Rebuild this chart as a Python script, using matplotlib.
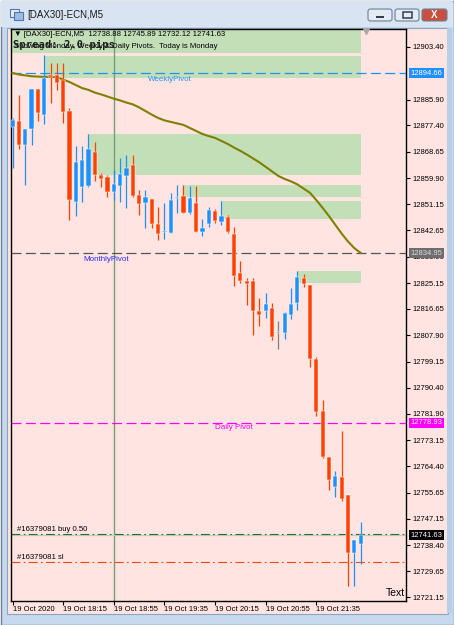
import matplotlib
matplotlib.use("Agg")
import matplotlib.pyplot as plt
from matplotlib.patches import Rectangle, FancyBboxPatch
from matplotlib.transforms import blended_transform_factory
import numpy as np

plt.rcParams['font.family'] = ['Liberation Sans', 'DejaVu Sans']

# --- data (M5 bars) ---
opens = [12876.8, 12878.8, 12870.9, 12876.1, 12889.4, 12880.8, 12894.0, 12894.0,
         12892.4, 12882.1, 12852.0, 12856.9, 12857.3, 12868.5, 12860.9, 12860.3,
         12855.3, 12857.3, 12860.6, 12864.2, 12854.3, 12851.6, 12853.0, 12844.7,
         12841.9, 12841.7, 12853.3, 12854.0, 12848.3, 12851.6, 12842.0, 12844.7,
         12849.0, 12845.4, 12847.0, 12841.4, 12828.5, 12825.8, 12825.8, 12815.9,
         12815.9, 12816.9, 12808.6, 12808.6, 12814.6, 12818.5, 12826.8, 12824.5,
         12800.0, 12782.8, 12767.5, 12757.6, 12760.9, 12755.0, 12735.8, 12738.88]
highs = [12879.8, 12887.4, 12876.1, 12889.4, 12889.4, 12900.6, 12898.0, 12898.0,
         12898.0, 12883.1, 12870.5, 12870.5, 12874.5, 12871.8, 12861.6, 12860.9,
         12862.6, 12866.5, 12867.5, 12867.5, 12856.0, 12856.0, 12853.0, 12850.3,
         12851.6, 12855.0, 12857.6, 12857.6, 12857.3, 12857.3, 12846.3, 12850.3,
         12849.7, 12852.3, 12847.7, 12843.7, 12832.4, 12826.8, 12826.8, 12820.2,
         12821.8, 12818.5, 12812.6, 12815.5, 12823.5, 12829.1, 12828.1, 12824.5,
         12800.6, 12786.4, 12767.5, 12762.9, 12776.1, 12755.0, 12740.0, 12745.89]
lows = [12863.2, 12869.5, 12857.6, 12870.9, 12878.8, 12877.8, 12884.8, 12889.1,
        12878.1, 12846.0, 12847.3, 12852.0, 12856.9, 12858.9, 12856.9, 12853.6,
        12852.6, 12852.0, 12850.0, 12853.6, 12847.7, 12843.4, 12843.4, 12839.4,
        12839.7, 12841.7, 12848.3, 12848.3, 12848.0, 12842.0, 12840.7, 12843.7,
        12845.0, 12844.4, 12841.7, 12824.2, 12825.2, 12817.9, 12807.9, 12810.9,
        12813.6, 12806.3, 12803.3, 12806.6, 12813.2, 12816.2, 12823.8, 12797.3,
        12781.1, 12767.2, 12756.6, 12754.3, 12753.0, 12724.8, 12724.8, 12732.12]
closes = [12879.1, 12870.9, 12876.1, 12889.4, 12881.4, 12893.0, 12893.4, 12891.4,
          12881.8, 12852.6, 12865.2, 12865.9, 12869.5, 12860.9, 12859.6, 12855.3,
          12857.9, 12861.2, 12863.2, 12854.0, 12851.3, 12853.6, 12844.7, 12841.4,
          12842.1, 12852.6, 12853.6, 12848.3, 12853.3, 12842.0, 12843.4, 12849.3,
          12845.7, 12847.3, 12842.0, 12827.5, 12825.8, 12824.8, 12815.9, 12814.6,
          12818.2, 12807.3, 12808.6, 12815.2, 12818.2, 12827.1, 12824.8, 12800.0,
          12782.4, 12767.5, 12759.9, 12761.2, 12753.6, 12735.8, 12740.0, 12741.63]
ma = [12894.7, 12894.2, 12893.9, 12893.6, 12893.5, 12893.4, 12893.4, 12893.3,
      12892.5, 12891.7, 12890.7, 12889.7, 12889.1, 12888.2, 12887.6, 12886.9,
      12886.2, 12885.6, 12884.9, 12884.3, 12883.3, 12882.1, 12880.9, 12879.8,
      12879.0, 12878.5, 12878.0, 12877.5, 12876.5, 12875.5, 12874.5, 12873.8,
      12873.2, 12872.2, 12871.2, 12870.0, 12868.9, 12867.7, 12866.4, 12865.1,
      12863.6, 12862.1, 12860.6, 12859.6, 12858.8, 12857.8, 12856.4, 12855.0,
      12852.6, 12850.0, 12847.3, 12844.4, 12841.5, 12838.9, 12836.7, 12835.1]

zone_lo = [12901.3, 12893.2, 12860.9, 12853.6, 12846.2, 12825.1]
zone_hi = [12912.0, 12900.3, 12874.5, 12857.6, 12852.3, 12829.1]
zone_start = [-0.3, 5, 12, 27, 33, 45]
zone_end = 55

weekly_pivot = 12894.66
monthly_pivot = 12834.95
daily_pivot = 12778.93
bid = 12741.63
order_price = 12742.0
order_sl = 12732.7
vline_bar = 16

price_ticks = [12903.40, 12885.90, 12877.40, 12868.65, 12859.90, 12851.15,
               12842.65, 12833.90, 12825.15, 12816.65, 12807.90, 12799.15, 12790.40,
               12781.90, 12773.15, 12764.40, 12755.65, 12747.15, 12738.40, 12729.65,
               12721.15]
time_ticks = [0, 8, 16, 24, 32, 40, 48]
time_labels = ['19 Oct 2020', '19 Oct 18:15', '19 Oct 18:55', '19 Oct 19:35',
               '19 Oct 20:15', '19 Oct 20:55', '19 Oct 21:35']

PINK = '#FFE4E1'
BULL = '#1E90FF'
BEAR = '#FF4000'
ZONE = '#c2dfb8'

W, H = 454, 625
fig = plt.figure(figsize=(W / 100, H / 100), dpi=100)

# window chrome in pixel coordinates
bg = fig.add_axes([0, 0, 1, 1])
bg.set_xlim(0, W)
bg.set_ylim(H, 0)
bg.axis('off')
bg.add_patch(Rectangle((0.5, 0.5), W - 1, H - 1, fc='#c6d9ef', ec='#6f7f92', lw=1))
bg.add_patch(Rectangle((1, 1), W - 2, 26, fc='#d9e4f2', ec='none'))
bg.add_patch(Rectangle((6.5, 27.5), 441, 586, fc=PINK, ec='#8ea3bd', lw=0.8))
bg.add_patch(Rectangle((447, 28), 5, 585, fc='#b9cee7', ec='none'))
# icon
bg.add_patch(Rectangle((10, 9), 9, 8, fc='#e8eef7', ec='#4f76b0', lw=0.8))
bg.add_patch(Rectangle((14, 12), 9, 8, fc='#9dbbe4', ec='#4f76b0', lw=0.8))
bg.text(27, 15, '[DAX30]-ECN,M5', fontsize=7, va='center', ha='left', color='#1b1b1b')
# buttons
for x0, w, fc in [(368, 24, '#e3ebf5'), (395, 24, '#e3ebf5'), (422, 25, '#c9503f')]:
    bg.add_patch(FancyBboxPatch((x0, 9), w, 12, boxstyle='round,pad=0,rounding_size=2.5',
                                fc=fc, ec='#6d7f96', lw=0.8))
bg.add_patch(Rectangle((376, 16), 8, 2, fc='#33404f', ec='none'))
bg.add_patch(Rectangle((403, 12), 9, 6, fc='none', ec='#33404f', lw=1.1))
bg.text(434.5, 15.3, 'X', fontsize=7, fontweight='bold', color='white', ha='center', va='center')

# chart
ax = fig.add_axes([11 / W, (H - 601) / H, 395 / W, 572 / H])
ax.set_zorder(2)
ax.set_facecolor(PINK)
ax.set_xlim(-0.24, 62.16)
ax.set_ylim(12719.86, 12909.26)
for s in ax.spines.values():
    s.set_color('black')
    s.set_linewidth(1)

x = np.arange(len(opens))
o = np.array(opens)
c = np.array(closes)

for lo, hi, x0 in zip(zone_lo, zone_hi, zone_start):
    ax.add_patch(Rectangle((x0, lo), zone_end - x0, hi - lo, fc=ZONE, ec='none', zorder=1))

ax.axvline(vline_bar, color='#7a9b7a', lw=1, zorder=2)

ax.axhline(weekly_pivot, color=BULL, lw=0.9, ls=(0, (8, 3.5)), zorder=2)
ax.axhline(monthly_pivot, color='#555555', lw=0.9, ls=(0, (8, 3.5)), zorder=2)
ax.axhline(daily_pivot, color='#ff00ff', lw=0.9, ls=(0, (8, 3.5)), zorder=2)
ax.axhline(bid, color='#c8c8c8', lw=0.9, zorder=2)
ax.axhline(order_price, color='#1f7a1f', lw=0.8, ls=(0, (8, 3, 1.5, 3)), zorder=2)
ax.axhline(order_sl, color='#ff4500', lw=0.8, ls=(0, (8, 3, 1.5, 3)), zorder=2)

ax.plot(x, ma, color='#808000', lw=1.5, zorder=3)

cols = [BULL if cc > oo else (BEAR if cc < oo else '#808080') for oo, cc in zip(o, c)]
ax.vlines(x, lows, highs, colors=cols, lw=0.9, zorder=4)
body_h = np.maximum(np.abs(c - o), 0.35)
ax.bar(x, body_h, bottom=np.minimum(o, c), width=0.66, color=cols,
       edgecolor='white', linewidth=0.35, zorder=5)

# text on chart
ax.text(21.4, weekly_pivot - 0.9, 'WeeklyPivot', color=BULL, fontsize=5.8, va='top', zorder=6)
ax.text(11.2, monthly_pivot - 0.9, 'MonthlyPivot', color='#2a2aff', fontsize=5.8, va='top', zorder=6)
ax.text(32.0, daily_pivot - 0.6, 'Daily Pivot', color='#ff00ff', fontsize=5.8, va='top', zorder=6)
ax.text(0.7, order_price + 0.4, '#16379081 buy 0.50', fontsize=5.6, va='bottom', zorder=6)
ax.text(0.7, order_sl + 0.4, '#16379081 sl', fontsize=5.6, va='bottom', zorder=6)

px = bg.transData
ax.text(14, 35, '\u25bc [DAX30]-ECN,M5  12738.88 12745.89 12732.12 12741.63', fontsize=5.6,
        va='center', transform=px, clip_on=False, zorder=7)
ax.text(14, 46, 'Showing Monday, Weekly & Daily Pivots.  Today is Monday', fontsize=5.6,
        va='center', transform=px, clip_on=False, zorder=7)
ax.text(13, 45, 'Spread: 2.0 pips', fontsize=7.6, fontweight='bold', family='DejaVu Sans Mono',
        color='#202020', va='center', transform=px, clip_on=False, zorder=8)
ax.text(405, 593, 'Text', fontsize=7.5, ha='right', va='center', transform=px, clip_on=False, zorder=7)
ax.plot([366], [31], marker='v', ms=4, color='#a8a8a8', transform=px, clip_on=False, zorder=7)

# axes ticks
ax.yaxis.tick_right()
ax.set_yticks(price_ticks)
ax.set_yticklabels(['%.2f' % v for v in price_ticks])
ax.tick_params(axis='y', direction='out', length=3, width=0.8, pad=2, labelsize=5.5)
ax.set_xticks(time_ticks)
ax.set_xticklabels(time_labels)
ax.tick_params(axis='x', direction='out', length=3, width=0.8, pad=0.5, labelsize=5.5)
for lab in ax.get_xticklabels():
    lab.set_ha('left')

# highlighted price labels on the scale
tr = blended_transform_factory(ax.transAxes, ax.transData)
for val, fc, tc in [(weekly_pivot, BULL, 'white'), (monthly_pivot, '#6e6e6e', '#dcdcdc'),
                    (daily_pivot, '#ff00ff', 'white'), (bid, 'black', 'white')]:
    ax.text(1.012, val, '%.2f' % val, transform=tr, fontsize=5.5, color=tc, ha='left',
            va='center', clip_on=False, zorder=9,
            bbox=dict(boxstyle='square,pad=0.2', fc=fc, ec='none'))

fig.savefig('out.png', dpi=100, facecolor=fig.get_facecolor())
